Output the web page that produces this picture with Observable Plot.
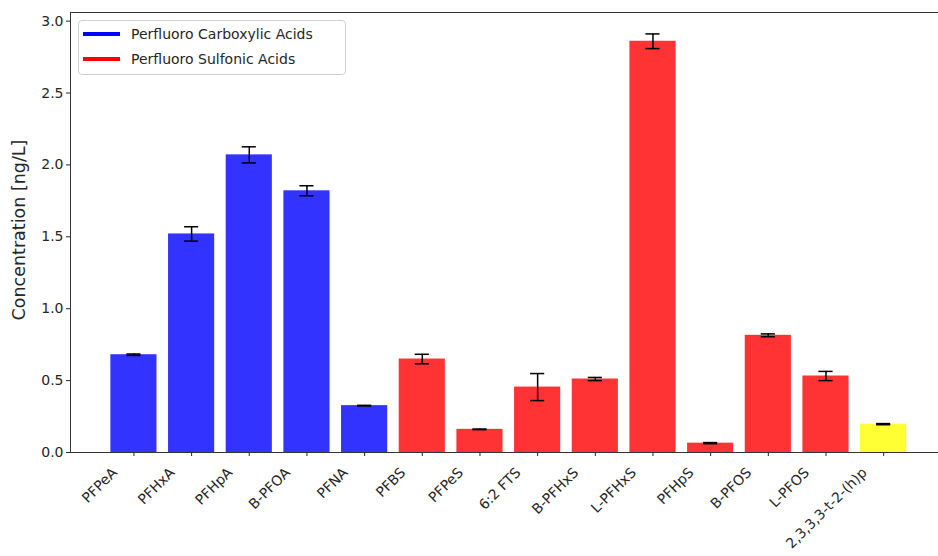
<!DOCTYPE html>
<html>
<head>
<meta charset="utf-8">
<script src="https://cdn.jsdelivr.net/npm/d3@7"></script>
<script src="https://cdn.jsdelivr.net/npm/@observablehq/plot@0.6"></script>
<style>
  body { margin: 0; background: #fff; font-family: "DejaVu Sans", sans-serif; }
  #wrap { position: relative; width: 938px; height: 556px; overflow: hidden; }
  #legend { position: absolute; left: 78px; top: 20px; width: 266px; height: 53px;
            border: 1px solid #d0d0d0; border-radius: 4px; background: rgba(255,255,255,0.8);
            font-family: "DejaVu Sans", sans-serif; font-size: 14px; color: #262626; }
  .li { position: absolute; left: 4px; display: flex; align-items: center; }
  .sw { width: 37px; height: 4px; margin-right: 11px; }
  #ylabel { position: absolute; left: 19px; top: 230px; transform: translate(-50%, -50%) rotate(-90deg);
            white-space: nowrap; font-family: "DejaVu Sans", sans-serif; font-size: 17.5px; color: #262626; }
</style>
</head>
<body>
<div id="wrap">
  <div id="chart"></div>
  <div id="legend"></div>
  <div id="ylabel"></div>
</div>
<script>
const compounds = ["PFPeA","PFHxA","PFHpA","B-PFOA","PFNA","PFBS","PFPeS","6:2 FTS","B-PFHxS","L-PFHxS","PFHpS","B-PFOS","L-PFOS","2,3,3,3-t-2-(h)p"];
const values = [0.68, 1.52, 2.07, 1.82, 0.326, 0.65, 0.161, 0.455, 0.511, 2.86, 0.065, 0.815, 0.532, 0.197];
const errors = [0.005, 0.05, 0.056, 0.035, 0.002, 0.033, 0.002, 0.094, 0.011, 0.051, 0.004, 0.01, 0.032, 0.004];
const groups = ["carb","carb","carb","carb","carb","sulf","sulf","sulf","sulf","sulf","sulf","sulf","sulf","other"];
const groupNames = ["carb","sulf","other"];
const groupColors = ["rgb(51,51,255)","rgb(255,51,51)","rgb(255,255,51)"];
const legendLabels = ["Perfluoro Carboxylic Acids","Perfluoro Sulfonic Acids"];
const legendColors = ["#0000ff","#ff0000"];
const yTicks = [0, 0.5, 1.0, 1.5, 2.0, 2.5, 3.0];
const yLabel = "Concentration [ng/L]";

const data = compounds.map((c, i) => ({name: c, value: values[i], err: errors[i], group: groups[i]}));

const W = 938, H = 556;
const plot = Plot.plot({
  width: W, height: H,
  marginLeft: 70, marginRight: 0, marginTop: 12, marginBottom: 104,
  style: {fontFamily: "DejaVu Sans, sans-serif", fontSize: "14px", color: "#262626", background: "#fff", overflow: "visible"},
  x: {domain: compounds, range: [70, 946.6], paddingInner: 0.2, paddingOuter: 0.7, align: 0.5, round: false, label: null},
  y: {domain: [0, 3.06], label: null},
  color: {domain: groupNames, range: groupColors},
  marks: [
    Plot.barY(data, {x: "name", y: "value", fill: "group"}),
    Plot.ruleX(data, {x: "name", y1: d => d.value - d.err, y2: d => d.value + d.err, stroke: "black", strokeWidth: 1.5}),
    Plot.tickY(data, {x: "name", y: d => d.value - d.err, stroke: "black", strokeWidth: 1.5, insetLeft: 16, insetRight: 16}),
    Plot.tickY(data, {x: "name", y: d => d.value + d.err, stroke: "black", strokeWidth: 1.5, insetLeft: 16, insetRight: 16}),
    Plot.axisY({ticks: yTicks, tickFormat: d3.format(".1f"), tickSize: 4, tickPadding: 3, fontSize: 14, label: null}),
    Plot.axisX({tickSize: 4, tickFormat: () => "", label: null}),
    Plot.text(compounds, {x: d => d, text: d => d, frameAnchor: "bottom", dy: 21, dx: -16, rotate: -45,
                          textAnchor: "end", lineAnchor: "bottom", fontSize: 14, fill: "#262626"}),
    Plot.frame({anchor: "left", stroke: "#333"}),
    Plot.frame({anchor: "top", stroke: "#333"}),
    Plot.frame({anchor: "bottom", stroke: "#333"})
  ]
});
document.getElementById("chart").appendChild(plot);
document.getElementById("ylabel").textContent = yLabel;

const lg = document.getElementById("legend");
legendLabels.forEach((t, i) => {
  const row = document.createElement("div");
  row.className = "li";
  row.style.top = (5 + i * 25) + "px";
  const sw = document.createElement("div");
  sw.className = "sw";
  sw.style.background = legendColors[i];
  const tx = document.createElement("span");
  tx.textContent = t;
  row.appendChild(sw); row.appendChild(tx);
  lg.appendChild(row);
});
</script>
</body>
</html>
